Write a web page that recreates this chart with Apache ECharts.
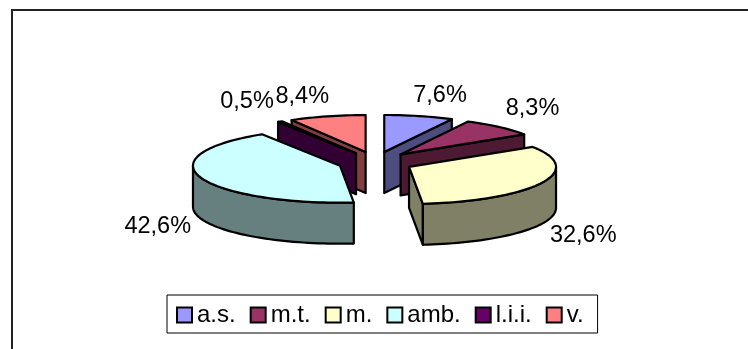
<!DOCTYPE html>
<html><head><meta charset="utf-8">
<style>html,body{margin:0;padding:0;background:#fff}#c{width:748px;height:349px}</style>
<script src="https://cdn.jsdelivr.net/npm/echarts@6/dist/echarts.min.js"></script>
</head><body><div id="c"></div>
<script>
var categories = ['a.s.', 'm.t.', 'm.', 'amb.', 'l.i.i.', 'v.'];
var shares = [7.6, 8.3, 32.6, 42.6, 0.5, 8.4];
var topColors = ['#9999FF', '#993366', '#FFFFCC', '#CCFFFF', '#660066', '#FF8080'];
var sideColors = ['#4D4D80', '#4D1933', '#808066', '#668080', '#330033', '#804040'];
var labelNudge = [[21, -21], [33, -19], [42, 52], [-43, 49], [-33, -20], [-25, -20]];

var CX = 375.4, CY = 162.3, RX = 147, RY = 37, DEPTH = 41, EX = 37.4, EY = 10.6, FONT = 'Liberation Sans, Arial, sans-serif';
var total = shares.reduce(function (a, b) { return a + b; }, 0);
var D = Math.PI / 180;

var starts = [];
shares.reduce(function (acc, v, i) { starts[i] = acc; return acc + v; }, 0);

function sliceAngles(i) {
  var a0 = starts[i] / total * 360, a1 = (starts[i] + shares[i]) / total * 360;
  return { a0: a0, a1: a1, mid: (a0 + a1) / 2 };
}
function renderSlice(i) {
  return function () {
    var s = sliceAngles(i);
    var ax = CX + EX * Math.sin(s.mid * D), ay = CY - EY * Math.cos(s.mid * D);
    function pt(deg, dy) {
      return [ax + RX * Math.sin(deg * D), ay - RY * Math.cos(deg * D) + (dy || 0)];
    }
    function arc(from, to, dy) {
      var out = [], n = Math.max(2, Math.ceil(Math.abs(to - from) / 2));
      for (var k = 0; k <= n; k++) out.push(pt(from + (to - from) * k / n, dy));
      return out;
    }
    var style = { stroke: '#000', lineWidth: 2.2, lineJoin: 'round', fill: sideColors[i] };
    var kids = [];
    function poly(points, fill) {
      kids.push({ type: 'polygon', shape: { points: points }, style: Object.assign({}, style, { fill: fill }) });
    }
    if (Math.sin(s.a0 * D) < 0) {
      var e0 = pt(s.a0);
      poly([[ax, ay], e0, [e0[0], e0[1] + DEPTH], [ax, ay + DEPTH]], sideColors[i]);
    }
    if (Math.sin(s.a1 * D) > 0) {
      var e1 = pt(s.a1);
      poly([[ax, ay], e1, [e1[0], e1[1] + DEPTH], [ax, ay + DEPTH]], sideColors[i]);
    }
    var w0 = Math.max(s.a0, 90), w1 = Math.min(s.a1, 270);
    if (w1 > w0) {
      poly(arc(w0, w1, 0).concat(arc(w1, w0, DEPTH)), sideColors[i]);
    }
    poly([[ax, ay]].concat(arc(s.a0, s.a1, 0)), topColors[i]);
    var m = pt(s.mid);
    kids.push({
      type: 'text',
      style: {
        x: m[0] + labelNudge[i][0], y: m[1] + labelNudge[i][1],
        text: shares[i].toFixed(1).replace('.', ',') + '%',
        fill: '#000', font: '23.5px ' + FONT, align: 'center', verticalAlign: 'middle'
      }
    });
    return { type: 'group', children: kids };
  };
}
var depthRank = categories.map(function (c, i) { return i; }).sort(function (p, q) {
  return Math.cos(sliceAngles(q).mid * D) - Math.cos(sliceAngles(p).mid * D);
});

var chart = echarts.init(document.getElementById('c'), null, { renderer: 'canvas' });
chart.setOption({
  animation: false,
  backgroundColor: '#fff',
  color: topColors,
  legend: {
    left: 167, top: 295, padding: [8, 14, 6, 9],
    orient: 'horizontal', itemGap: 14, itemWidth: 15, itemHeight: 15,
    icon: 'rect', borderColor: '#000', borderWidth: 1,
    itemStyle: { borderColor: '#000', borderWidth: 2 },
    textStyle: { color: '#000', fontSize: 24, fontFamily: FONT },
    data: categories
  },
  graphic: [
    { type: 'line', shape: { x1: 12, y1: 10, x2: 748, y2: 10 }, style: { stroke: '#222', lineWidth: 2 }, silent: true },
    { type: 'line', shape: { x1: 12, y1: 9, x2: 12, y2: 349 }, style: { stroke: '#222', lineWidth: 2 }, silent: true }
  ],
  series: categories.map(function (name, i) {
    return {
      type: 'custom', name: name, coordinateSystem: 'none', silent: true,
      z: 2 + depthRank.indexOf(i),
      itemStyle: { color: topColors[i] },
      renderItem: renderSlice(i),
      data: [[shares[i]]]
    };
  })
});
</script></body></html>
